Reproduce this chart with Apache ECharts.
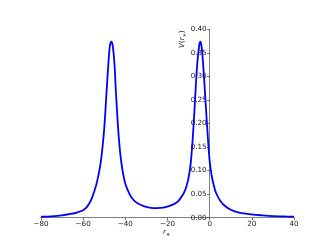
<!DOCTYPE html>
<html><head><meta charset="utf-8">
<script src="https://cdn.jsdelivr.net/npm/echarts@6/dist/echarts.min.js"></script>
<style>html,body{margin:0;padding:0;background:#fff}#c{width:327px;height:245px}</style>
</head><body><div id="c"></div>
<script>
// r* positions and potential values
const rStar = [-80,-75,-70,-66,-63,-60,-58,-56,-54,-53,-52,-51,-50,-49,-48,-47.3,-46.6,-46,-45.2,-44.5,-43.5,-42.5,-41.5,-40,-38,-36,-34,-31,-28,-25,-22,-19,-16,-14,-12,-11,-10,-9,-8,-7,-6,-5,-4.4,-3.8,-3,-2,-1,0,1,2,3,5,7,10,14,20,25,30,35,40];
const potential = [0.002,0.003,0.005,0.008,0.011,0.016,0.024,0.040,0.066,0.085,0.108,0.142,0.190,0.260,0.330,0.366,0.374,0.366,0.330,0.270,0.195,0.140,0.105,0.072,0.050,0.037,0.030,0.024,0.021,0.0205,0.0215,0.025,0.031,0.040,0.055,0.067,0.085,0.115,0.170,0.245,0.320,0.365,0.374,0.362,0.320,0.250,0.180,0.120,0.088,0.068,0.053,0.036,0.026,0.017,0.011,0.007,0.005,0.0035,0.0028,0.002];
const xTicks = [-80,-60,-40,-20,0,20,40];
const yTicks = [0,0.05,0.10,0.15,0.20,0.25,0.30,0.35,0.40];

const font = 'DejaVu Sans';
const W = 327, gridLeft = 41, gridRight = 33;
const plotW = W - gridLeft - gridRight;
const xMin = xTicks[0], xMax = xTicks[xTicks.length-1];
const yAxisOffset = -plotW * (0 - xMin) / (xMax - xMin); // move y axis to r*=0
const chart = echarts.init(document.getElementById('c'), null, {renderer:'canvas'});
const axisCol = '#808080';
chart.setOption({
  animation:false,
  grid:{left:gridLeft,right:gridRight,top:29.3,bottom:27.3,containLabel:false},
  xAxis:{type:'value',min:xMin,max:xMax,interval:20,
    axisLine:{show:true,onZero:false,lineStyle:{color:axisCol,width:1}},
    axisTick:{show:true,length:2.5,lineStyle:{color:'#333',width:0.7}},
    axisLabel:{fontFamily:font,fontSize:7.2,color:'#222',margin:3,
      formatter:v=>(v<0?'\u2212'+Math.abs(v):String(v))},
    splitLine:{show:false}},
  yAxis:{type:'value',position:'left',offset:yAxisOffset,min:yTicks[0],max:yTicks[yTicks.length-1],interval:0.05,
    axisLine:{show:true,onZero:false,lineStyle:{color:axisCol,width:1}},
    axisTick:{show:true,length:2.5,lineStyle:{color:'#333',width:0.7}},
    axisLabel:{fontFamily:font,fontSize:7.2,color:'#222',margin:3,formatter:v=>v.toFixed(2)},
    splitLine:{show:false}},
  series:[{type:'line',data:rStar.map((x,i)=>[x,potential[i]]),smooth:0.3,showSymbol:false,
    lineStyle:{color:'#0000ff',width:1.8},z:1}],
  graphic:[
    {type:'text',left:163,top:229,style:{rich:{i:{fontFamily:font,fontStyle:'italic',fontSize:7.2,fill:'#222'},s:{fontFamily:font,fontSize:5,fill:'#222',padding:[4,0,0,0]}},text:'{i|r}{s|∗}'}},
    {type:'text',x:178,y:48,rotation:Math.PI/2,style:{rich:{i:{fontFamily:font,fontStyle:'italic',fontSize:7.2,fill:'#222'},n:{fontFamily:font,fontSize:7.2,fill:'#222'},s:{fontFamily:font,fontSize:5,fill:'#222',padding:[4,0,0,0]}},text:'{i|V}{n|(}{i|r}{s|∗}{n|)}'}}
  ]
});
</script></body></html>
